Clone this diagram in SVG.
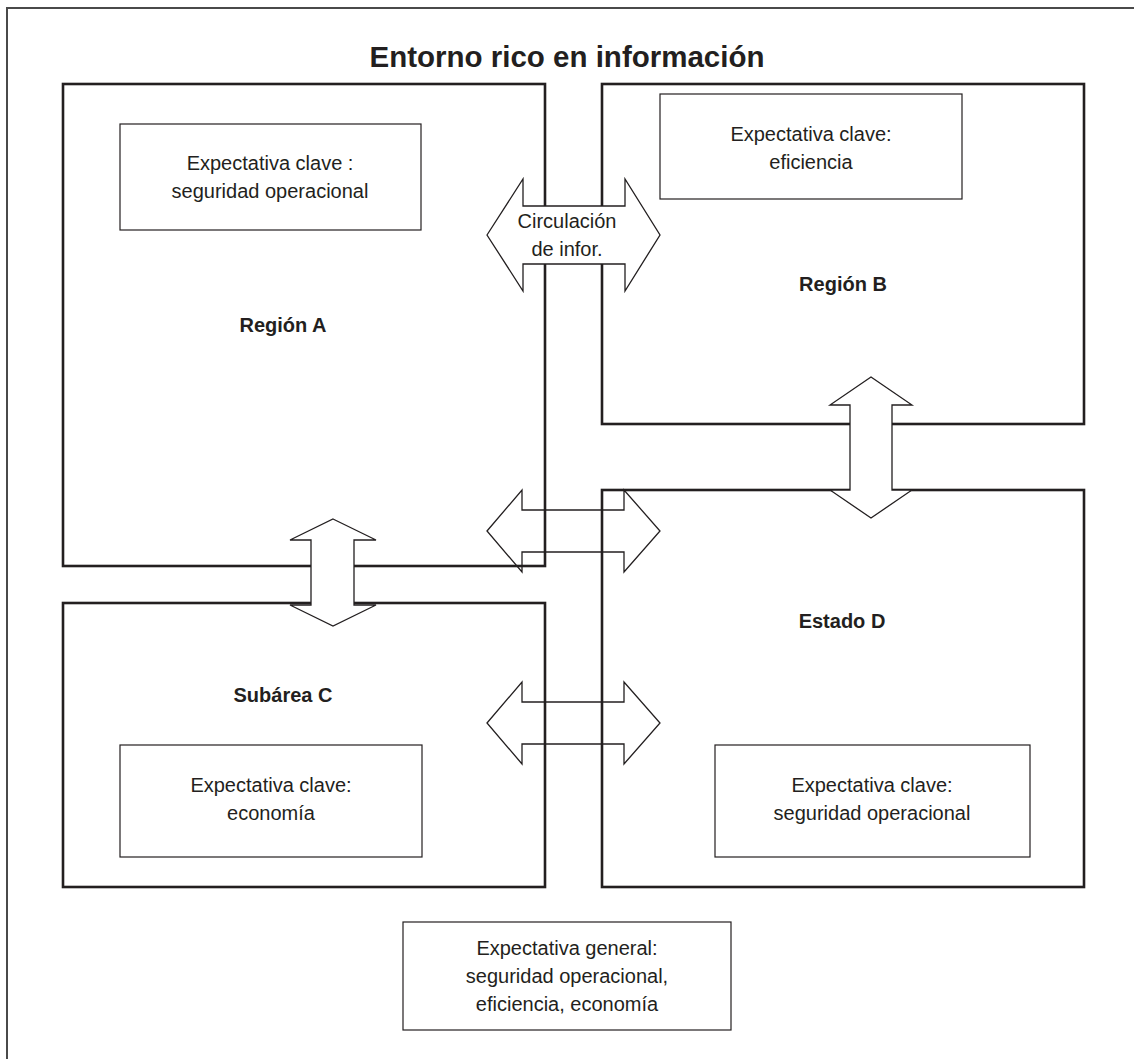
<svg xmlns="http://www.w3.org/2000/svg" width="1134" height="1059" viewBox="0 0 1134 1059">
<style>
.region{fill:#fff;stroke:#231f20;stroke-width:2.6}
.inner{fill:#fff;stroke:#231f20;stroke-width:1.2}
.arrow{fill:#fff;stroke:#231f20;stroke-width:1.3;stroke-linejoin:miter}
.arrow-open{fill:none;stroke:#231f20;stroke-width:1.3}
text{font-family:"Liberation Sans",Arial,sans-serif;fill:#231f20;text-anchor:middle}
.t{font-size:20px}
.b{font-size:20px;font-weight:bold}
.title{font-size:29.5px;font-weight:bold}
</style>
<rect x="0" y="0" width="1134" height="1059" fill="#fff"/>
<rect x="7" y="8" width="1140" height="1060" fill="none" stroke="#4a4a4a" stroke-width="2"/>
<text class="title" x="567" y="67">Entorno rico en información</text>

<g id="region-a">
<rect class="region" x="63" y="84" width="482" height="482"/>
<rect class="inner" x="120" y="124" width="301" height="106"/>
<text class="t" x="270" y="170">Expectativa clave :</text>
<text class="t" x="270" y="198">seguridad operacional</text>
<text class="b" x="283" y="332">Región A</text>
</g>

<g id="region-b">
<rect class="region" x="602" y="84" width="482" height="340"/>
<rect class="inner" x="660" y="94" width="302" height="105"/>
<text class="t" x="811" y="141">Expectativa clave:</text>
<text class="t" x="811" y="169">eficiencia</text>
<text class="b" x="843" y="291">Región B</text>
</g>

<g id="subarea-c">
<rect class="region" x="63" y="603" width="482" height="284"/>
<rect class="inner" x="120" y="745" width="302" height="112"/>
<text class="t" x="271" y="792">Expectativa clave:</text>
<text class="t" x="271" y="820">economía</text>
<text class="b" x="283" y="702">Subárea C</text>
</g>

<g id="estado-d">
<rect class="region" x="602" y="490" width="482" height="397"/>
<rect class="inner" x="715" y="745" width="315" height="112"/>
<text class="t" x="872" y="792">Expectativa clave:</text>
<text class="t" x="872" y="820">seguridad operacional</text>
<text class="b" x="842" y="628">Estado D</text>
</g>

<g id="general">
<rect class="inner" x="403" y="922" width="328" height="108"/>
<text class="t" x="567" y="955">Expectativa general:</text>
<text class="t" x="567" y="983">seguridad operacional,</text>
<text class="t" x="567" y="1011">eficiencia, economía</text>
</g>

<g id="connectors">
<g id="arrow-ab">
<path class="arrow" d="M487,235 L523,179 L523,206 L625,206 L625,179 L660,235 L625,291 L625,264 L523,264 L523,291 Z"/>
<text class="t" x="567" y="228">Circulación</text>
<text class="t" x="567" y="256">de infor.</text>
</g>
<path id="arrow-bd" class="arrow" d="M871,377 L912,405 L892,405 L892,490 L912,490 L871,518 L830,490 L850,490 L850,405 L830,405 Z"/>
<path id="arrow-ac" class="arrow" d="M333,519 L376,540 L354,540 L354,605 L376,605 L333,626 L290,605 L311,605 L311,540 L290,540 Z"/>
<path id="arrow-ad" class="arrow-open" d="M487,531 L522,490 L522,510 L624,510 L624,490 L660,531 L624,572 L624,552 L522,552 L522,572 Z"/>
<path id="arrow-cd" class="arrow-open" d="M487,723 L522,682 L522,702 L624,702 L624,682 L660,723 L624,764 L624,744 L522,744 L522,764 Z"/>
</g>
</svg>
